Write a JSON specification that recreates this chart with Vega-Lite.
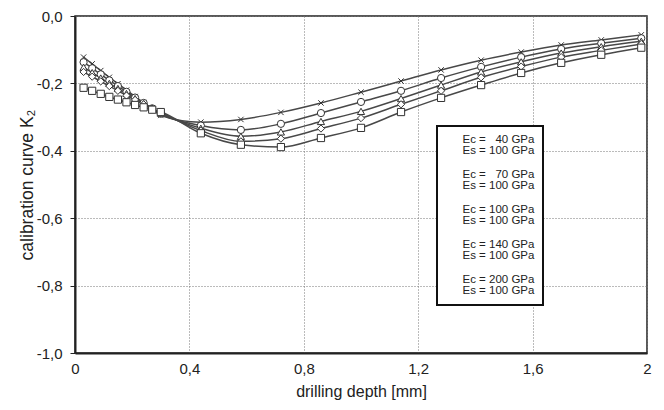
{
  "$schema": "https://vega.github.io/schema/vega-lite/v6.json",
  "width": 572,
  "height": 337,
  "autosize": {"type": "none"},
  "padding": {"left": 75, "top": 16, "right": 17, "bottom": 57},
  "background": "white",
  "config": {
    "font": "Liberation Sans",
    "view": {"stroke": "#222", "strokeWidth": 1.5},
    "legend": {"strokeWidth": 2},
    "style": {"guide-label": {"lineHeight": 11.5, "lineBreak": "\n"}},
    "axis": {
      "labelFont": "Liberation Sans",
      "titleFont": "Liberation Sans",
      "labelFontSize": 15,
      "labelColor": "#222",
      "titleFontSize": 16,
      "titleFontWeight": "normal",
      "titleColor": "#222",
      "grid": true,
      "gridColor": "#777",
      "gridDash": [1, 2],
      "gridWidth": 1,
      "domainColor": "#222",
      "domainWidth": 2,
      "tickColor": "#222"
    }
  },
  "data": {
    "values": [
      {"d": 0.03, "k": -0.122, "ec": 200}, {"d": 0.06, "k": -0.142, "ec": 200}, {"d": 0.09, "k": -0.162, "ec": 200}, {"d": 0.12, "k": -0.182, "ec": 200}, {"d": 0.15, "k": -0.201, "ec": 200}, {"d": 0.18, "k": -0.220, "ec": 200}, {"d": 0.21, "k": -0.239, "ec": 200}, {"d": 0.24, "k": -0.258, "ec": 200}, {"d": 0.27, "k": -0.276, "ec": 200}, {"d": 0.30, "k": -0.295, "ec": 200}, {"d": 0.44, "k": -0.315, "ec": 200}, {"d": 0.58, "k": -0.307, "ec": 200}, {"d": 0.72, "k": -0.286, "ec": 200}, {"d": 0.86, "k": -0.258, "ec": 200}, {"d": 1.00, "k": -0.226, "ec": 200}, {"d": 1.14, "k": -0.193, "ec": 200}, {"d": 1.28, "k": -0.160, "ec": 200}, {"d": 1.42, "k": -0.131, "ec": 200}, {"d": 1.56, "k": -0.107, "ec": 200}, {"d": 1.70, "k": -0.086, "ec": 200}, {"d": 1.84, "k": -0.071, "ec": 200}, {"d": 1.98, "k": -0.056, "ec": 200},
      {"d": 0.03, "k": -0.137, "ec": 140}, {"d": 0.06, "k": -0.155, "ec": 140}, {"d": 0.09, "k": -0.173, "ec": 140}, {"d": 0.12, "k": -0.191, "ec": 140}, {"d": 0.15, "k": -0.208, "ec": 140}, {"d": 0.18, "k": -0.225, "ec": 140}, {"d": 0.21, "k": -0.242, "ec": 140}, {"d": 0.24, "k": -0.258, "ec": 140}, {"d": 0.27, "k": -0.274, "ec": 140}, {"d": 0.30, "k": -0.290, "ec": 140}, {"d": 0.44, "k": -0.325, "ec": 140}, {"d": 0.58, "k": -0.338, "ec": 140}, {"d": 0.72, "k": -0.320, "ec": 140}, {"d": 0.86, "k": -0.288, "ec": 140}, {"d": 1.00, "k": -0.255, "ec": 140}, {"d": 1.14, "k": -0.222, "ec": 140}, {"d": 1.28, "k": -0.184, "ec": 140}, {"d": 1.42, "k": -0.151, "ec": 140}, {"d": 1.56, "k": -0.122, "ec": 140}, {"d": 1.70, "k": -0.098, "ec": 140}, {"d": 1.84, "k": -0.081, "ec": 140}, {"d": 1.98, "k": -0.066, "ec": 140},
      {"d": 0.03, "k": -0.152, "ec": 100}, {"d": 0.06, "k": -0.168, "ec": 100}, {"d": 0.09, "k": -0.184, "ec": 100}, {"d": 0.12, "k": -0.200, "ec": 100}, {"d": 0.15, "k": -0.215, "ec": 100}, {"d": 0.18, "k": -0.230, "ec": 100}, {"d": 0.21, "k": -0.245, "ec": 100}, {"d": 0.24, "k": -0.260, "ec": 100}, {"d": 0.27, "k": -0.274, "ec": 100}, {"d": 0.30, "k": -0.288, "ec": 100}, {"d": 0.44, "k": -0.333, "ec": 100}, {"d": 0.58, "k": -0.357, "ec": 100}, {"d": 0.72, "k": -0.344, "ec": 100}, {"d": 0.86, "k": -0.313, "ec": 100}, {"d": 1.00, "k": -0.283, "ec": 100}, {"d": 1.14, "k": -0.245, "ec": 100}, {"d": 1.28, "k": -0.205, "ec": 100}, {"d": 1.42, "k": -0.166, "ec": 100}, {"d": 1.56, "k": -0.136, "ec": 100}, {"d": 1.70, "k": -0.110, "ec": 100}, {"d": 1.84, "k": -0.091, "ec": 100}, {"d": 1.98, "k": -0.075, "ec": 100},
      {"d": 0.03, "k": -0.166, "ec": 70}, {"d": 0.06, "k": -0.180, "ec": 70}, {"d": 0.09, "k": -0.194, "ec": 70}, {"d": 0.12, "k": -0.208, "ec": 70}, {"d": 0.15, "k": -0.222, "ec": 70}, {"d": 0.18, "k": -0.236, "ec": 70}, {"d": 0.21, "k": -0.249, "ec": 70}, {"d": 0.24, "k": -0.262, "ec": 70}, {"d": 0.27, "k": -0.275, "ec": 70}, {"d": 0.30, "k": -0.287, "ec": 70}, {"d": 0.44, "k": -0.340, "ec": 70}, {"d": 0.58, "k": -0.372, "ec": 70}, {"d": 0.72, "k": -0.364, "ec": 70}, {"d": 0.86, "k": -0.334, "ec": 70}, {"d": 1.00, "k": -0.303, "ec": 70}, {"d": 1.14, "k": -0.262, "ec": 70}, {"d": 1.28, "k": -0.222, "ec": 70}, {"d": 1.42, "k": -0.182, "ec": 70}, {"d": 1.56, "k": -0.150, "ec": 70}, {"d": 1.70, "k": -0.122, "ec": 70}, {"d": 1.84, "k": -0.102, "ec": 70}, {"d": 1.98, "k": -0.083, "ec": 70},
      {"d": 0.03, "k": -0.213, "ec": 40}, {"d": 0.06, "k": -0.222, "ec": 40}, {"d": 0.09, "k": -0.231, "ec": 40}, {"d": 0.12, "k": -0.240, "ec": 40}, {"d": 0.15, "k": -0.248, "ec": 40}, {"d": 0.18, "k": -0.256, "ec": 40}, {"d": 0.21, "k": -0.264, "ec": 40}, {"d": 0.24, "k": -0.271, "ec": 40}, {"d": 0.27, "k": -0.278, "ec": 40}, {"d": 0.30, "k": -0.285, "ec": 40}, {"d": 0.44, "k": -0.348, "ec": 40}, {"d": 0.58, "k": -0.382, "ec": 40}, {"d": 0.72, "k": -0.389, "ec": 40}, {"d": 0.86, "k": -0.362, "ec": 40}, {"d": 1.00, "k": -0.332, "ec": 40}, {"d": 1.14, "k": -0.285, "ec": 40}, {"d": 1.28, "k": -0.243, "ec": 40}, {"d": 1.42, "k": -0.205, "ec": 40}, {"d": 1.56, "k": -0.169, "ec": 40}, {"d": 1.70, "k": -0.139, "ec": 40}, {"d": 1.84, "k": -0.115, "ec": 40}, {"d": 1.98, "k": -0.094, "ec": 40}
    ]
  },
  "encoding": {
    "x": {
      "field": "d", "type": "quantitative",
      "scale": {"domain": [0, 2], "nice": false, "zero": false},
      "axis": {
        "values": [0, 0.4, 0.8, 1.2, 1.6, 2],
        "labelExpr": "replace(format(datum.value, '~g'), '.', ',')",
        "ticks": false,
        "labelPadding": 8,
        "labelFlush": false,
        "title": "drilling depth [mm]",
        "titlePadding": 7
      }
    },
    "y": {
      "field": "k", "type": "quantitative",
      "scale": {"domain": [-1, 0], "nice": false, "zero": false},
      "axis": {
        "values": [-1, -0.8, -0.6, -0.4, -0.2, 0],
        "labelExpr": "replace(replace(format(datum.value, '.1f'), '.', ','), '\u2212', '-')",
        "ticks": true,
        "tickSize": 5,
        "labelPadding": 8,
        "title": "calibration curve K₂",
        "titleFontSize": 17.5,
        "titlePadding": 0
      }
    }
  },
  "layer": [
    {
      "mark": {"type": "line", "interpolate": "monotone", "color": "#484848", "strokeWidth": 1.5},
      "encoding": {"detail": {"field": "ec", "type": "nominal"}}
    },
    {
      "mark": {"type": "point", "filled": false, "fill": "white", "stroke": "#333", "color": "#333", "strokeWidth": 1, "size": 52, "opacity": 1},
      "encoding": {
        "shape": {
          "field": "ec", "type": "nominal",
          "scale": {"domain": [40, 70, 100, 140, 200], "range": ["square", "diamond", "triangle-up", "circle", "M-0.75,-0.75L0.75,0.75M-0.75,0.75L0.75,-0.75"]},
          "legend": {
            "title": null,
            "orient": "none",
            "legendX": 362,
            "legendY": 110,
            "padding": 8,
            "strokeColor": "#111",
            "fillColor": "white",
            "symbolSize": 50,
            "symbolFillColor": "white",
            "symbolStrokeColor": "#333",
            "symbolStrokeWidth": 1,
            "labelFont": "Liberation Sans",
            "labelFontSize": 11.5,
            "labelColor": "#222",
            "labelLimit": 200,
            "labelOffset": 6,
            "rowPadding": 11,
            "labelExpr": "'Ec = ' + (datum.value < 100 ? '\u2007' : '') + datum.value + ' GPa\\nEs = 100 GPa'"
          }
        }
      }
    }
  ]
}
